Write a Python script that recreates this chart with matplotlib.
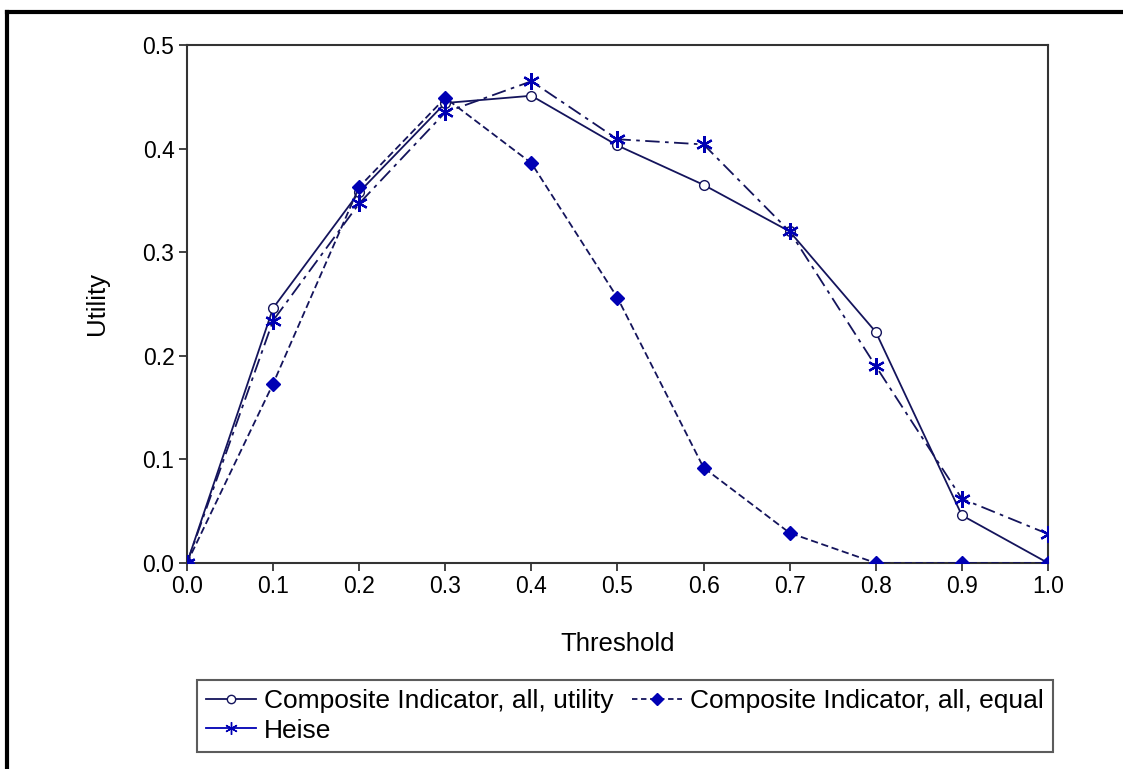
import matplotlib
matplotlib.use("Agg")
import matplotlib.pyplot as plt
from matplotlib.lines import Line2D

plt.rcParams["font.family"] = ["Liberation Sans", "DejaVu Sans"]

thresholds = [0.0, 0.1, 0.2, 0.3, 0.4, 0.5, 0.6, 0.7, 0.8, 0.9, 1.0]
ci_utility = [0.0, 0.246, 0.358, 0.444, 0.451, 0.403, 0.365, 0.320, 0.223, 0.046, 0.0]
ci_equal = [0.0, 0.173, 0.363, 0.449, 0.386, 0.256, 0.092, 0.029, 0.0, 0.0, 0.0]
heise = [0.0, 0.234, 0.347, 0.435, 0.465, 0.409, 0.404, 0.320, 0.190, 0.062, 0.028]

xticks = [0.0, 0.1, 0.2, 0.3, 0.4, 0.5, 0.6, 0.7, 0.8, 0.9, 1.0]
yticks = [0.0, 0.1, 0.2, 0.3, 0.4, 0.5]

LINE = "#14145c"
MARK = "#0000b4"
TICK_FS = 16.5
LAB_FS = 18.5
LEG_FS = 19

fig = plt.figure(figsize=(11.23, 7.69), dpi=100)
ax = fig.add_axes([0.1665, 0.2679, 0.7667, 0.6736])

ax.plot(thresholds, ci_utility, color=LINE, lw=1.3, ls="-", marker="o",
        ms=7, mfc="white", mec=LINE, mew=1.0, zorder=3)
ax.plot(thresholds, ci_equal, color=LINE, lw=1.3, ls=(0, (4, 2)), marker="D",
        ms=7, mfc=MARK, mec=MARK, zorder=3)
ax.plot(thresholds, heise, color=LINE, lw=1.3, ls=(0, (8, 3, 2, 3)), marker=(6, 2, 0),
        ms=12, mec=MARK, mew=1.6, zorder=3)

ax.set_xlim(0, 1)
ax.set_ylim(0, 0.5)
ax.set_xticks(xticks)
ax.set_yticks(yticks)
ax.set_xticklabels([f"{v:.1f}" for v in xticks], fontsize=TICK_FS)
ax.set_yticklabels([f"{v:.1f}" for v in yticks], fontsize=TICK_FS)
ax.tick_params(direction="out", length=6, width=1.2, color="#222222", pad=3)
for s in ax.spines.values():
    s.set_linewidth(1.5)
    s.set_color("#333333")

ax.set_xlabel("Threshold", fontsize=LAB_FS, labelpad=24)
ax.set_ylabel("Utility", fontsize=LAB_FS, labelpad=24)

# legend order: column-wise fill -> row1: utility, equal ; row2: Heise
handles = [
    Line2D([], [], color=LINE, lw=1.3, marker="o", ms=6, mfc="white", mec=LINE),
    Line2D([], [], color=MARK, lw=1.3, marker=(6, 2, 0), ms=9, mec=MARK),
    Line2D([], [], color=LINE, lw=1.3, ls=(0, (3, 2)), marker="D", ms=6, mfc=MARK, mec=MARK),
]
labels = ["Composite Indicator, all, utility", "Heise", "Composite Indicator, all, equal"]
leg = fig.legend(handles, labels, loc="upper left", bbox_to_anchor=(0.1754, 0.1157),
                 ncol=2, fontsize=LEG_FS, frameon=True, fancybox=False,
                 handlelength=1.9, handletextpad=0.3, columnspacing=0.7, borderpad=0.35,
                 labelspacing=0.2, borderaxespad=0)
leg.get_frame().set_edgecolor("#333333")
leg.get_frame().set_linewidth(1.5)

# outer frame (top and left edges)
fig.add_artist(Line2D([0.006, 0.006], [0.0, 0.985], transform=fig.transFigure, color="black", lw=3))
fig.add_artist(Line2D([0.006, 1.0], [0.985, 0.985], transform=fig.transFigure, color="black", lw=3))

fig.savefig("out.png", dpi=100)
